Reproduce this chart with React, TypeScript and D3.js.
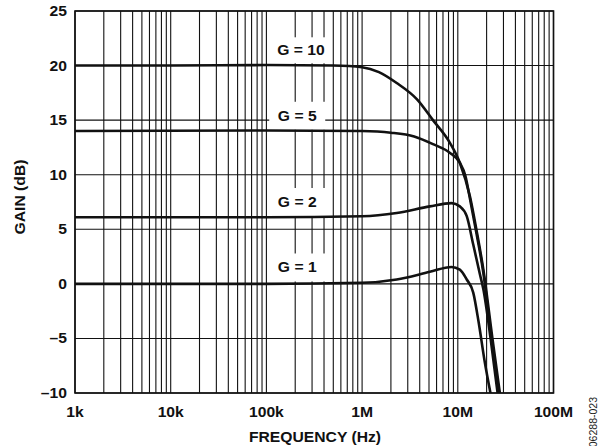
import React from "react";
import * as d3 from "d3";

const W = 610;
const H = 446;

// Axis ticks
const yTicks = [-10, -5, 0, 5, 10, 15, 20, 25];
const yTickLabels = ["–10", "–5", "0", "5", "10", "15", "20", "25"];
const xTicks = [1e3, 1e4, 1e5, 1e6, 1e7, 1e8];
const xTickLabels = ["1k", "10k", "100k", "1M", "10M", "100M"];

// Series (frequency Hz, gain dB)
const freqG10 = [1e3, 1e4, 1e5, 5e5, 1e6, 1.5e6, 2.3e6, 3.75e6, 5.5e6, 8.3e6, 10.5e6, 13.4e6, 15.7e6, 18.5e6, 23e6, 28e6];
const gainG10 = [20, 20, 20.05, 20, 19.85, 19.4, 18.4, 16.9, 15.0, 12.9, 11.1, 8.0, 4.9, 1.3, -5, -10.5];

const freqG5 = [1e3, 1e5, 1e6, 2e6, 3.5e6, 5.5e6, 8.3e6, 10.5e6, 12e6, 13.4e6, 15.7e6, 18.5e6, 22.5e6, 27.5e6];
const gainG5 = [14, 14.05, 14, 13.85, 13.5, 12.8, 12.0, 11.1, 9.9, 7.8, 4.6, 1.0, -5, -10.5];

const freqG2 = [1e3, 1e5, 1e6, 2.3e6, 5.1e6, 8.6e6, 10.5e6, 12.4e6, 14.5e6, 17e6, 18.5e6, 22e6, 26.5e6];
const gainG2 = [6.1, 6.1, 6.2, 6.5, 7.1, 7.4, 7.1, 6.2, 3.6, 0.9, -0.5, -5, -10.5];

const freqG1 = [1e3, 1e5, 1e6, 2.3e6, 5.1e6, 8.6e6, 10.5e6, 12.4e6, 14.5e6, 16.5e6, 19e6, 22.5e6];
const gainG1 = [0, 0, 0.1, 0.4, 1.1, 1.55, 1.3, 0.4, -0.8, -3.5, -7, -10.5];

const seriesLabels = ["G = 10", "G = 5", "G = 2", "G = 1"];
// label anchor (freq, gain) positions
const labelFreqs = [2.3e5, 2.1e5, 2.1e5, 2.1e5];
const labelGains = [21.4, 15.4, 7.5, 1.5];

const FONT = "'Liberation Sans', Arial, Helvetica, sans-serif";

export default function App() {
  const left = 75, right = 553.5, top = 11, bottom = 393;
  const x = d3.scaleLog().domain([1e3, 1e8]).range([left, right]);
  const y = d3.scaleLinear().domain([-10, 25]).range([bottom, top]);

  const minorX: number[] = [];
  for (let dec = 1e3; dec < 1e8; dec *= 10) {
    for (let m = 1; m <= 9; m++) minorX.push(dec * m);
  }
  minorX.push(1e8);

  const line = d3
    .line<[number, number]>()
    .x((d) => x(d[0]))
    .y((d) => y(d[1]))
    .curve(d3.curveMonotoneX);

  const series = [
    d3.zip(freqG10, gainG10) as [number, number][],
    d3.zip(freqG5, gainG5) as [number, number][],
    d3.zip(freqG2, gainG2) as [number, number][],
    d3.zip(freqG1, gainG1) as [number, number][],
  ];

  const sx = 1.12;
  const Txt = (props: { x: number; y: number; anchor: string; children: React.ReactNode; size?: number }) => (
    <text
      transform={`translate(${props.x},${props.y}) scale(${sx},1)`}
      textAnchor={props.anchor as any}
      fontFamily={FONT}
      fontWeight="bold"
      fontSize={props.size ?? 14}
      fill="#111"
    >
      {props.children}
    </text>
  );

  const boxH = [26, 28, 28, 28];

  return (
    <svg width={W} height={H} style={{ position: "absolute", left: 0, top: 0, background: "#fff" }}>
      <defs>
        <clipPath id="plotclip">
          <rect x={left} y={top} width={right - left} height={bottom - top} />
        </clipPath>
      </defs>
      <rect x={0} y={0} width={W} height={H} fill="#fff" />
      {/* grid */}
      <g stroke="#111" strokeWidth={1.1}>
        {minorX.map((f, i) => (
          <line key={"vx" + i} x1={x(f)} x2={x(f)} y1={top} y2={bottom} />
        ))}
        {yTicks.map((t, i) => (
          <line key={"hy" + i} x1={left} x2={right} y1={y(t)} y2={y(t)} />
        ))}
      </g>
      {/* label backgrounds */}
      {seriesLabels.map((s, i) => {
        const cx = x(labelFreqs[i]);
        const cy = y(labelGains[i]);
        const w = 56;
        const h = boxH[i];
        return <rect key={"bg" + i} x={cx - w / 2} y={cy - h / 2} width={w} height={h} fill="#fff" />;
      })}
      {/* curves */}
      <g clipPath="url(#plotclip)" fill="none" stroke="#111" strokeWidth={2.6} strokeLinejoin="round">
        {series.map((s, i) => (
          <path key={"s" + i} d={line(s) ?? ""} />
        ))}
      </g>
      {/* frame */}
      <rect x={left} y={top} width={right - left} height={bottom - top} fill="none" stroke="#111" strokeWidth={1.6} />
      {/* series labels */}
      {seriesLabels.map((s, i) => (
        <Txt key={"lb" + i} x={x(labelFreqs[i])} y={y(labelGains[i]) + 5} anchor="middle">
          {s}
        </Txt>
      ))}
      {/* y tick labels */}
      {yTicks.map((t, i) => (
        <Txt key={"yl" + i} x={67} y={y(t) + 5} anchor="end">
          {yTickLabels[i]}
        </Txt>
      ))}
      {/* x tick labels */}
      {xTicks.map((t, i) => (
        <Txt key={"xl" + i} x={x(t)} y={416.5} anchor="middle">
          {xTickLabels[i]}
        </Txt>
      ))}
      {/* axis titles */}
      <Txt x={315} y={441.5} anchor="middle">FREQUENCY (Hz)</Txt>
      <text
        transform={`translate(25,197) rotate(-90) scale(${sx},1)`}
        textAnchor="middle"
        fontFamily={FONT}
        fontWeight="bold"
        fontSize={14}
        fill="#111"
      >
        GAIN (dB)
      </text>
      <text
        transform="translate(597,397) rotate(-90)"
        textAnchor="end"
        fontFamily={FONT}
        fontSize={10.5}
        fill="#222"
      >
        06288-023
      </text>
    </svg>
  );
}
